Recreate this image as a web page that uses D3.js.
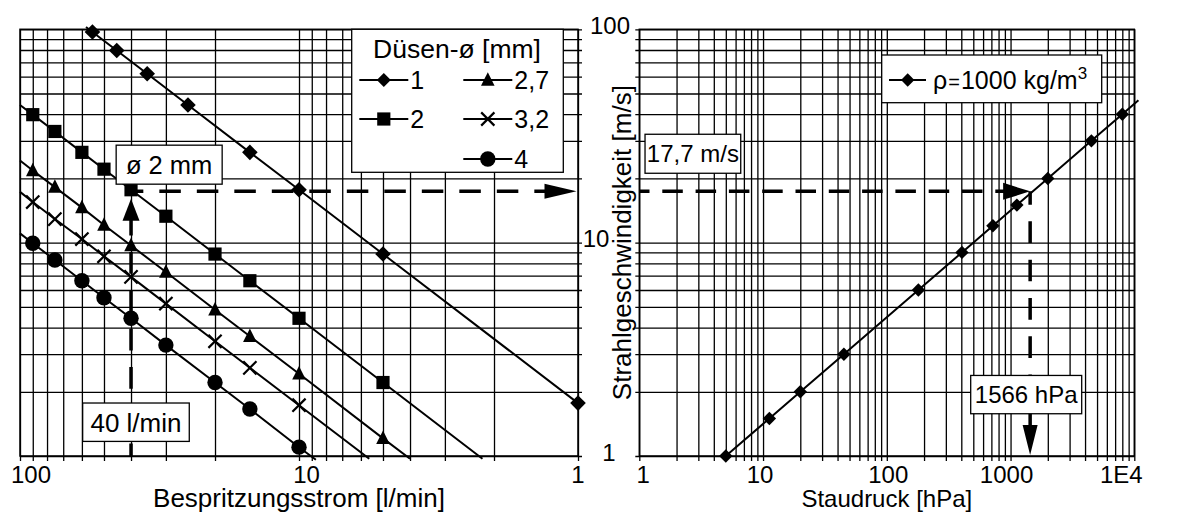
<!DOCTYPE html>
<html><head><meta charset="utf-8">
<script src="https://cdn.jsdelivr.net/npm/d3@7"></script>
<style>
html,body{margin:0;padding:0;background:#fff;}
svg{display:block;font-family:"Liberation Sans",Arial,Helvetica,sans-serif;}
</style></head><body>
<svg id="chart" width="1199" height="513"></svg>
<script>
// ---------------- data ----------------
const flowTicks = [100, 10, 1];
const flowTickLabels = ["100", "10", "1"];
const velTicks = [100, 10, 1];
const velTickLabels = ["100", "10", "1"];
const pressTicks = [1, 10, 100, 1000, 10000];
const pressTickLabels = ["1", "10", "100", "1000", "1E4"];

const nozzleNames = ["1", "2", "2,7", "3,2", "4"];
const nozzleSymbols = ["diamond", "square", "triangle", "x", "circle"];

// Bespritzungsstrom [l/min] -> Strahlgeschwindigkeit [m/s]
const flow_d1  = [55, 45, 35, 25, 15, 10, 5, 1];
const vel_d1   = [97.2, 79.6, 61.9, 44.2, 26.5, 17.7, 8.84, 1.77];
const flow_d2  = [90, 75, 60, 50, 40, 30, 20, 15, 10, 5];
const vel_d2   = [39.8, 33.2, 26.5, 22.1, 17.7, 13.3, 8.84, 6.63, 4.42, 2.21];
const flow_d27 = [90, 75, 60, 50, 40, 30, 20, 15, 10, 5];
const vel_d27  = [21.8, 18.2, 14.6, 12.1, 9.7, 7.28, 4.85, 3.64, 2.43, 1.21];
const flow_d32 = [90, 75, 60, 50, 40, 30, 20, 15, 10];
const vel_d32  = [15.5, 12.9, 10.4, 8.63, 6.91, 5.18, 3.45, 2.59, 1.73];
const flow_d4  = [90, 75, 60, 50, 40, 30, 20, 15, 10];
const vel_d4   = [9.94, 8.29, 6.63, 5.52, 4.42, 3.31, 2.21, 1.66, 1.10];

// line end points [flow, vel] (where the drawn lines start / stop)
const lineStart = [[58, 102.5], [100, 44.2], [100, 24.25], [100, 17.3], [100, 11.05]];
const lineEnd   = [[1, 1.77], [2.2, 0.97], [4.0, 0.97], [5.6, 0.97], [8.7, 0.96]];

// Staudruck [hPa] -> Strahlgeschwindigkeit [m/s], rho = 1000 kg/m3
const press_rho = [5, 11.25, 20, 45, 180, 405, 720, 1125, 2000, 4500, 8000];
const vel_rho   = [1, 1.5, 2, 3, 6, 9, 12, 15, 20, 30, 40];
const pressLineEnd = [10800, 46.5];

// reading example
const markFlow = 40;
const markVel = 17.4;
const markPress = 1440;
const labelNozzle = "ø 2 mm";
const labelFlow = "40 l/min";
const labelVel = "17,7 m/s";
const labelPress = "1566 hPa";
// annotation anchors (data units)
const annNozzle = [29.2, 23.2];
const annFlow = [38.4, 1.44];
const annVel = [2.71, 26.1];
const annPress = [1338, 1.94];

// ---------------- layout ----------------
const svg = d3.select("#chart");
svg.append("rect").attr("width", 1199).attr("height", 513).attr("fill", "#fff");
const yT = 29.3, yB = 456, xL0 = 20, xL1 = 578, xR0 = 639.3, xR1 = 1134.3;
const FONT = 24;

const y = d3.scaleLog().domain([1, 100]).range([yB, yT]);
const xL = d3.scaleLog().domain([100, 1]).range([xL0, xL1]);
const xR = d3.scaleLog().domain([1, 1e4]).range([xR0, xR1]);

function logGrid(lo, hi) {
  const out = [];
  for (let d = lo; d < hi; d *= 10) for (let m = 1; m < 10; m++) out.push(m * d);
  out.push(hi);
  return out;
}

const gridG = svg.append("g");
function gridStyle(g) {
  g.select(".domain").remove();
  g.selectAll(".tick line").attr("stroke", "#000").attr("stroke-width", 1.3);
}
// left panel
gridG.append("g").attr("transform", `translate(0,${yB})`)
  .call(d3.axisBottom(xL).tickValues(logGrid(1, 100)).tickSize(-(yB - yT)).tickSizeOuter(0).tickFormat(""))
  .call(gridStyle).selectAll(".tick line").attr("y1", 5);
gridG.append("g").attr("transform", `translate(${xL1},0)`)
  .call(d3.axisRight(y).tickValues(logGrid(1, 100)).tickSize(-(xL1 - xL0)).tickSizeOuter(0).tickFormat(""))
  .call(gridStyle).selectAll(".tick line").attr("x1", 4);
// right panel
gridG.append("g").attr("transform", `translate(0,${yB})`)
  .call(d3.axisBottom(xR).tickValues(logGrid(1, 1e4)).tickSize(-(yB - yT)).tickSizeOuter(0).tickFormat(""))
  .call(gridStyle).selectAll(".tick line").attr("y1", 5);
gridG.append("g").attr("transform", `translate(${xR0},0)`)
  .call(d3.axisLeft(y).tickValues(logGrid(1, 100)).tickSize(-(xR1 - xR0)).tickSizeOuter(0).tickFormat(""))
  .call(gridStyle).selectAll(".tick line").attr("x1", -4);

// frames
svg.append("rect").attr("x", xL0).attr("y", yT).attr("width", xL1 - xL0).attr("height", yB - yT)
  .attr("fill", "none").attr("stroke", "#000").attr("stroke-width", 1.5);
svg.append("rect").attr("x", xR0).attr("y", yT).attr("width", xR1 - xR0).attr("height", yB - yT)
  .attr("fill", "none").attr("stroke", "#000").attr("stroke-width", 1.5);

// tick labels
const txt = svg.append("g").attr("font-size", FONT).attr("fill", "#000");
const flowDx = [11, 7.5, 0];
flowTicks.forEach((t, i) => txt.append("text").attr("x", xL(t) + flowDx[i]).attr("y", 482.7)
  .attr("text-anchor", "middle").text(flowTickLabels[i]));
const pressDx = [4, -3, 1.5, -4, -13];
pressTicks.forEach((t, i) => txt.append("text").attr("x", xR(t) + pressDx[i]).attr("y", 482.7)
  .attr("text-anchor", "middle").text(pressTickLabels[i]));
const velX = [610, 596, 609];
velTicks.forEach((t, i) => txt.append("text").attr("x", velX[i]).attr("y", y(t) + 4.6)
  .attr("text-anchor", "middle").text(velTickLabels[i]));

// axis titles
txt.append("text").attr("x", (xL0 + xL1) / 2).attr("y", 507).attr("text-anchor", "middle")
  .attr("font-size", 26).text("Bespritzungsstrom [l/min]");
txt.append("text").attr("x", (xR0 + xR1) / 2).attr("y", 507).attr("text-anchor", "middle")
  .attr("font-size", 24).text("Staudruck [hPa]");
txt.append("text").attr("transform", `translate(631,${(yT + yB) / 2}) rotate(-90)`).attr("text-anchor", "middle")
  .attr("font-size", 26).text("Strahlgeschwindigkeit [m/s]");

// ---------------- markers ----------------
function markerPath(type, s) {
  switch (type) {
    case "diamond": return `M0,${-s}L${s},0L0,${s}L${-s},0Z`;
    case "square": return `M${-s},${-s}H${s}V${s}H${-s}Z`;
    case "triangle": return `M0,${-s}L${s * 0.87},${s * 0.73}L${-s * 0.87},${s * 0.73}Z`;
    case "x": return `M${-s},${-s}L${s},${s}M${-s},${s}L${s},${-s}`;
    case "circle": return d3.symbol(d3.symbolCircle, Math.PI * s * s)();
  }
}
const markerSize = { diamond: 7.8, square: 6.6, triangle: 7.8, x: 6.6, circle: 7.7 };
function drawMarker(g, type, cx, cy, s) {
  const p = g.append("path").attr("d", markerPath(type, s || markerSize[type]))
    .attr("transform", `translate(${cx},${cy})`);
  if (type === "x") p.attr("fill", "none").attr("stroke", "#000").attr("stroke-width", 2.2);
  else p.attr("fill", "#000").attr("stroke", "none");
}

// ---------------- left panel series ----------------
const flows = [flow_d1, flow_d2, flow_d27, flow_d32, flow_d4];
const vels = [vel_d1, vel_d2, vel_d27, vel_d32, vel_d4];
const serG = svg.append("g");
const line = d3.line().x(d => xL(d[0])).y(d => y(d[1]));
flows.forEach((fl, i) => {
  const pts = [lineStart[i]].concat(fl.map((f, j) => [f, vels[i][j]])).concat([lineEnd[i]]);
  serG.append("path").attr("d", line(pts)).attr("fill", "none").attr("stroke", "#000").attr("stroke-width", 2);
});
flows.forEach((fl, i) => {
  fl.forEach((f, j) => drawMarker(serG, nozzleSymbols[i], xL(f), y(vels[i][j])));
});

// ---------------- right panel series ----------------
const lineR = d3.line().x(d => xR(d[0])).y(d => y(d[1]));
const rPts = press_rho.map((p, j) => [p, vel_rho[j]]).concat([pressLineEnd]);
serG.append("path").attr("d", lineR(rPts)).attr("fill", "none").attr("stroke", "#000").attr("stroke-width", 2);
press_rho.forEach((p, j) => drawMarker(serG, "diamond", xR(p), y(vel_rho[j]), 6.7));

// ---------------- reading example (dashed arrows) ----------------
const dashG = svg.append("g").attr("stroke", "#000").attr("fill", "none").attr("stroke-width", 3.5);
const hy = y(markVel);
const qx = xL(markFlow);
// vertical up arrow in left panel
const upTip = y(vel_d2[flow_d2.indexOf(markFlow)]) + 9;
dashG.append("line").attr("x1", qx).attr("x2", qx).attr("y1", yB).attr("y2", upTip + 20)
  .attr("stroke-dasharray", "21.7,16.6").attr("stroke-dashoffset", 9.3);
svg.append("path").attr("d", `M${qx},${upTip}L${qx + 8.5},${upTip + 22}L${qx - 8.5},${upTip + 22}Z`).attr("fill", "#000");
// horizontal arrow across left panel
const rTip = xL(1) - 1.5;
dashG.append("line").attr("x1", qx).attr("x2", rTip - 31).attr("y1", hy).attr("y2", hy)
  .attr("stroke-dasharray", "21.5,16").attr("stroke-dashoffset", 9.2);
svg.append("path").attr("d", `M${rTip},${hy}L${rTip - 32},${hy - 7.5}L${rTip - 32},${hy + 7.5}Z`).attr("fill", "#000");
// horizontal arrow in right panel
const px = xR(markPress);
dashG.append("line").attr("x1", xR0).attr("x2", px - 26).attr("y1", hy).attr("y2", hy)
  .attr("stroke-dasharray", "20.5,12.8").attr("stroke-dashoffset", -23);
svg.append("path").attr("d", `M${px},${hy}L${px - 27},${hy - 8.5}L${px - 27},${hy + 8.5}Z`).attr("fill", "#000");
// vertical down arrow in right panel
const dTip = yB - 1;
dashG.append("line").attr("x1", px).attr("x2", px).attr("y1", hy).attr("y2", dTip - 29)
  .attr("stroke-dasharray", "21.7,16.6").attr("stroke-dashoffset", 8.3);
svg.append("path").attr("d", `M${px},${dTip}L${px - 7.5},${dTip - 30}L${px + 7.5},${dTip - 30}Z`).attr("fill", "#000");

// ---------------- annotation boxes ----------------
function annBox(cx, cy, w, h, label, fs) {
  const g = svg.append("g");
  g.append("rect").attr("x", cx - w / 2).attr("y", cy - h / 2).attr("width", w).attr("height", h)
    .attr("fill", "#fff").attr("stroke", "#000").attr("stroke-width", 1.3);
  g.append("text").attr("x", cx).attr("y", cy + fs * 0.36).attr("text-anchor", "middle")
    .attr("font-size", fs).text(label);
}
annBox(xL(annNozzle[0]), y(annNozzle[1]), 106, 39, labelNozzle, 25.5);
annBox(xL(annFlow[0]), y(annFlow[1]), 106.6, 38.4, labelFlow, 26);
annBox(xR(annVel[0]), y(annVel[1]), 95.7, 39, labelVel, 24);
annBox(xR(annPress[0]), y(annPress[1]), 111, 38.3, labelPress, 24);

// ---------------- legend (left) ----------------
const lg = svg.append("g");
lg.append("rect").attr("x", 351.7).attr("y", 29.3).attr("width", 211.6).attr("height", 143)
  .attr("fill", "#fff").attr("stroke", "#000").attr("stroke-width", 1.3);
lg.append("text").attr("x", 457).attr("y", 57.5).attr("text-anchor", "middle").attr("font-size", 26.5)
  .text("Düsen-ø [mm]");
const legPos = [[359.3, 80], [359.3, 119], [463.3, 80], [463.3, 119], [463.3, 159]];
nozzleNames.forEach((n, i) => {
  const [lx, ly] = legPos[i];
  lg.append("line").attr("x1", lx).attr("x2", lx + 49).attr("y1", ly).attr("y2", ly)
    .attr("stroke", "#000").attr("stroke-width", 2);
  drawMarker(lg, nozzleSymbols[i], lx + 24.5, ly, nozzleSymbols[i] === "diamond" ? 7 : undefined);
  lg.append("text").attr("x", lx + 51).attr("y", ly + 9).attr("font-size", 25).text(n);
});

// ---------------- legend (right) ----------------
const rg = svg.append("g");
rg.append("rect").attr("x", 881.7).attr("y", 55).attr("width", 220).attr("height", 47.7)
  .attr("fill", "#fff").attr("stroke", "#000").attr("stroke-width", 1.3);
rg.append("line").attr("x1", 889).attr("x2", 926).attr("y1", 80).attr("y2", 80)
  .attr("stroke", "#000").attr("stroke-width", 2);
drawMarker(rg, "diamond", 907.7, 80, 6.7);
const rt = rg.append("text").attr("x", 933).attr("y", 89).attr("font-size", 25);
rt.append("tspan").text("ρ");
rt.append("tspan").attr("font-size", 20).attr("dx", 1).text("=");
rt.append("tspan").attr("dx", 1).text("1000 kg/m");
rt.append("tspan").attr("font-size", 17).attr("dy", -10).text("3");
</script>
</body></html>
